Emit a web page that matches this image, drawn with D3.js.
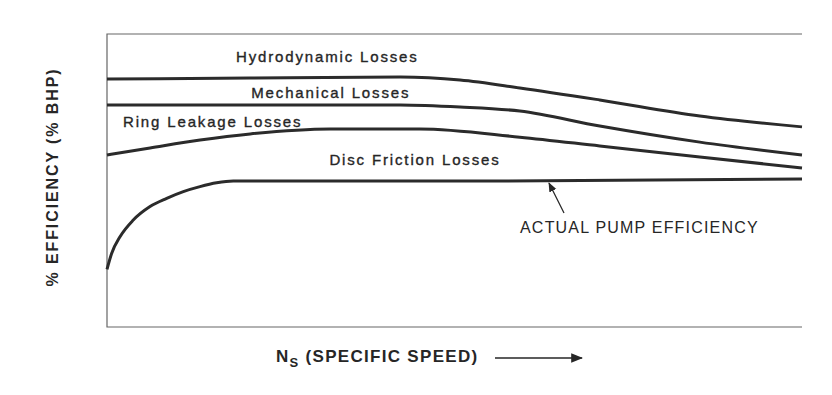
<!DOCTYPE html>
<html>
<head>
<meta charset="utf-8">
<script src="https://cdn.jsdelivr.net/npm/d3@7"></script>
<style>
  body { margin: 0; background: #fff; }
  text { font-family: "Liberation Sans", Arial, sans-serif; fill: #262626; }
</style>
</head>
<body>
<div id="chart"></div>
<script>
// specific speed positions (arbitrary 0-100 scale), % efficiency values
const xHydro = [0, 20.6, 42.2, 50.8, 59.4, 70.9, 85.3, 100];
const yHydro = [84.6, 85.0, 85.3, 84.3, 81.6, 77.5, 72.0, 68.3];

const xMech = [0, 20.6, 42.2, 50.8, 59.4, 70.9, 85.3, 100];
const yMech = [75.8, 75.8, 75.8, 75.1, 73.7, 68.6, 63.1, 58.7];

const xRing = [0, 6.2, 13.4, 20.6, 32.1, 45.0, 59.4, 70.9, 85.3, 100];
const yRing = [58.7, 61.1, 63.8, 65.9, 67.6, 67.6, 64.8, 61.8, 58.0, 54.3];

const xPump = [0, 0.68, 1.87, 3.78, 6.19, 8.59, 10.98, 13.38, 15.78, 18.17, 56.5, 100];
const yPump = [19.7, 25.2, 30.8, 36.5, 41.1, 43.9, 46.2, 47.9, 49.2, 49.8, 49.8, 50.5];

const curveLabels = [
    {text: "Hydrodynamic Losses", x: 31.7, y: 90.4, anchor: "middle"},
    {text: "Mechanical Losses", x: 32.2, y: 78.0, anchor: "middle"},
    {text: "Ring Leakage Losses", x: 2.3, y: 68.3, anchor: "start"},
    {text: "Disc Friction Losses", x: 32, y: 55.3, anchor: "start"}
];

const svg = d3.select("#chart")
    .append("svg")
    .attr("width", 832)
    .attr("height", 395);

const mLeft = 107, mRight = 802, mTop = 34, mBottom = 327;

const xScale = d3.scaleLinear().domain([0, 100]).range([mLeft, mRight]);
const yScale = d3.scaleLinear().domain([0, 100]).range([mBottom, mTop]);

// frame: top, left, bottom (no right edge)
svg.append("path")
    .attr("d", `M${mRight},${mTop}H${mLeft}V${mBottom}H${mRight}`)
    .attr("fill", "none")
    .attr("stroke", "#666")
    .attr("stroke-width", 1.2);

const line = d3.line()
    .x(d => xScale(d[0]))
    .y(d => yScale(d[1]))
    .curve(d3.curveMonotoneX);

const series = [
    [xHydro, yHydro],
    [xMech, yMech],
    [xRing, yRing],
    [xPump, yPump]
];

series.forEach(s => {
    svg.append("path")
        .datum(s[0].map((x, i) => [x, s[1][i]]))
        .attr("d", line)
        .attr("fill", "none")
        .attr("stroke", "#2b2b2b")
        .attr("stroke-width", 3);
});

curveLabels.forEach(l => {
    svg.append("text")
        .attr("x", xScale(l.x))
        .attr("y", yScale(l.y))
        .attr("text-anchor", l.anchor)
        .attr("font-size", 15)
        .attr("letter-spacing", 1.85)
        .attr("stroke", "#262626")
        .attr("stroke-width", 0.35)
        .text(l.text);
});

// actual pump efficiency label + arrow
svg.append("text")
    .attr("x", 520)
    .attr("y", 233)
    .attr("font-size", 16)
    .attr("letter-spacing", 1.2)
    .text("ACTUAL PUMP EFFICIENCY");

svg.append("defs").append("marker")
    .attr("id", "head")
    .attr("viewBox", "0 0 10 10")
    .attr("refX", 9).attr("refY", 5)
    .attr("markerWidth", 8).attr("markerHeight", 8)
    .attr("orient", "auto")
    .append("path")
    .attr("d", "M0,1L10,5L0,9Z")
    .attr("fill", "#262626");

svg.append("line")
    .attr("x1", 564).attr("y1", 213)
    .attr("x2", 549).attr("y2", 183)
    .attr("stroke", "#262626")
    .attr("stroke-width", 1.2)
    .attr("marker-end", "url(#head)");

// y axis title
svg.append("text")
    .attr("transform", "translate(58,177) rotate(-90)")
    .attr("text-anchor", "middle")
    .attr("font-size", 16)
    .attr("font-weight", "bold")
    .attr("letter-spacing", 1.9)
    .text("% EFFICIENCY (% BHP)");

// x axis title
const xt = svg.append("text")
    .attr("x", 276)
    .attr("y", 362)
    .attr("font-size", 17)
    .attr("font-weight", "bold")
    .attr("letter-spacing", 1.3);
xt.append("tspan").text("N");
xt.append("tspan").attr("font-size", 13).attr("dy", 5).text("S");
xt.append("tspan").attr("dy", -5).text(" (SPECIFIC SPEED)");

svg.append("line")
    .attr("x1", 495).attr("y1", 358)
    .attr("x2", 582).attr("y2", 358)
    .attr("stroke", "#262626")
    .attr("stroke-width", 1.5)
    .attr("marker-end", "url(#head)");
</script>
</body>
</html>
